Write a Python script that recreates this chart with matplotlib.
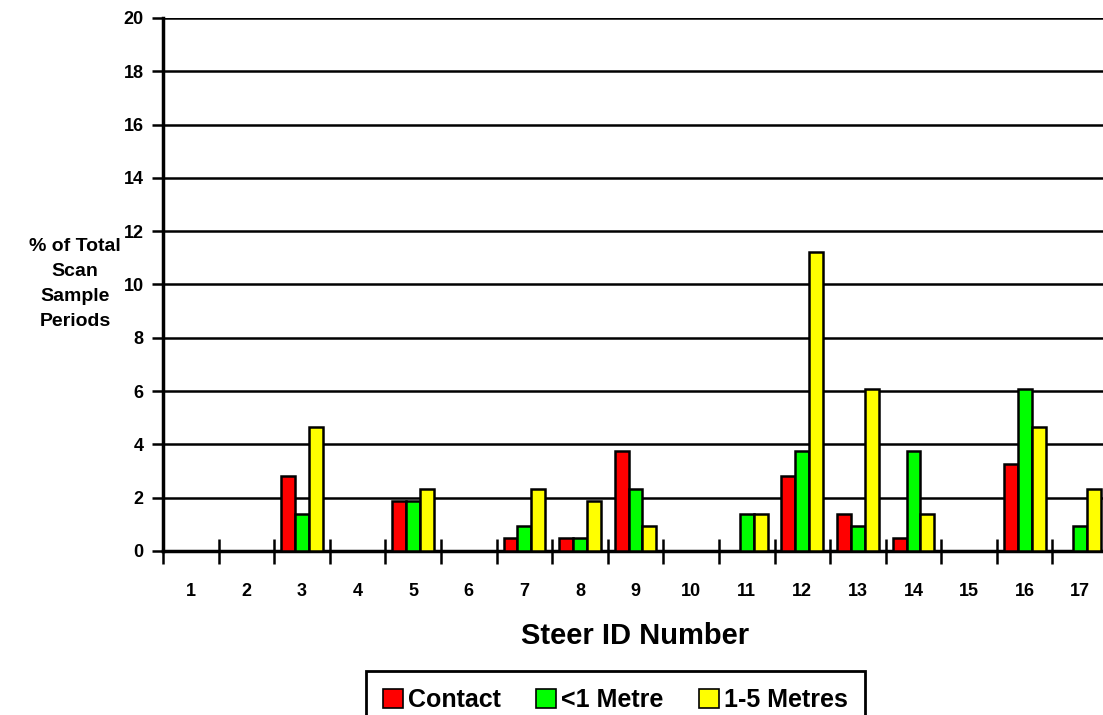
import numpy as np
import matplotlib.pyplot as plt
from matplotlib.ticker import MultipleLocator

steers = list(range(1, 18))
contact = [0, 0, 2.8, 0, 1.87, 0, 0.47, 0.47, 3.74, 0, 0, 2.8, 1.4, 0.47, 0, 3.27, 0]
under_1m = [0, 0, 1.4, 0, 1.87, 0, 0.93, 0.47, 2.33, 0, 1.4, 3.74, 0.93, 3.74, 0, 6.07, 0.93]
one_to_5m = [0, 0, 4.67, 0, 2.33, 0, 2.33, 1.87, 0.93, 0, 1.4, 11.2, 6.07, 1.4, 0, 4.67, 2.33]

plt.rcParams['font.family'] = ['Liberation Sans', 'DejaVu Sans']
plt.rcParams['font.weight'] = 'bold'
plt.rcParams['axes.labelweight'] = 'bold'

fig = plt.figure(figsize=(11.03, 7.15), dpi=100)
ax = fig.add_axes([0.1478, 0.2294, 0.8568, 0.7455])

x = np.array(steers)
w = 0.25
series = [(contact, '#ff0000', 'Contact'),
          (under_1m, '#00ff00', '<1 Metre'),
          (one_to_5m, '#ffff00', '1-5 Metres')]
for i, (vals, col, lab) in enumerate(series):
    ax.bar(x + (i - 1) * w, vals, width=w, color=col, edgecolor='black',
           linewidth=1.8, label=lab, zorder=3)

ax.set_xlim(0.5, 17.5)
ax.set_ylim(0, 20)
ax.yaxis.set_major_locator(MultipleLocator(2))
ax.set_xticks(steers)
ax.set_xticks(np.arange(0.5, 18, 1), minor=True)
ax.tick_params(axis='x', which='major', length=0, pad=23, labelsize=13)
ax.tick_params(axis='x', which='minor', direction='inout', length=18, width=1.8)
ax.tick_params(axis='y', direction='out', length=8, width=1.8, labelsize=13, pad=6)

ax.yaxis.grid(True, color='black', linewidth=1.8)
ax.set_axisbelow(True)
for s in ['top', 'right']:
    ax.spines[s].set_visible(False)
ax.spines['left'].set_linewidth(2.5)
ax.spines['bottom'].set_linewidth(2.5)

ax.set_xlabel('Steer ID Number', fontsize=21, labelpad=16)
fig.text(0.068, 0.603, '% of Total\nScan\nSample\nPeriods', ha='center', va='center',
         fontsize=14, linespacing=1.6)

leg = fig.legend(loc='upper center', bbox_to_anchor=(0.558, 0.062), ncol=3,
                 fontsize=18, frameon=True, fancybox=False, framealpha=1,
                 handlelength=0.8, handleheight=0.8, handletextpad=0.2,
                 columnspacing=1.4, borderpad=0.7, borderaxespad=0)
leg.get_frame().set_edgecolor('black')
leg.get_frame().set_linewidth(2)
for h in leg.legend_handles:
    h.set_linewidth(1.2)

fig.savefig('out.png', dpi=100)
